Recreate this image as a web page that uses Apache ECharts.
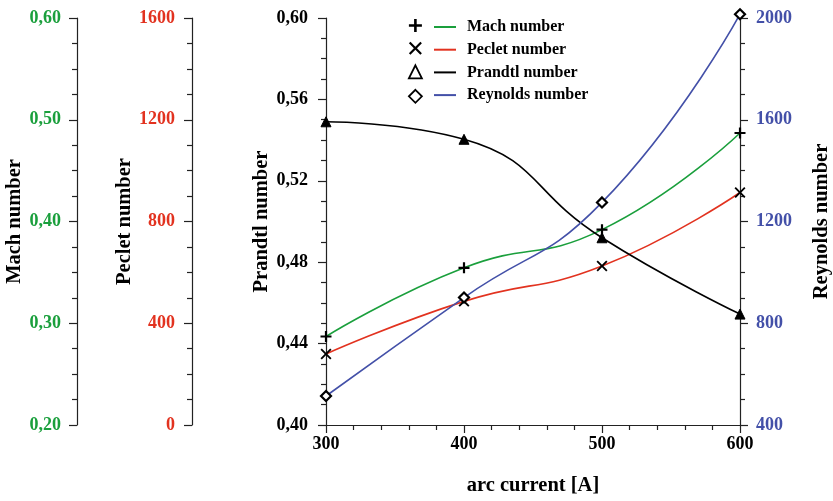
<!DOCTYPE html>
<html>
<head>
<meta charset="utf-8">
<script src="https://cdn.jsdelivr.net/npm/echarts@6/dist/echarts.min.js"></script>
<style>
html,body{margin:0;padding:0;background:#fff;}
#chart{width:833px;height:501px;}
</style>
</head>
<body>
<div id="chart"></div>
<script>
// ---- data ----
const arcCurrent = [300, 400, 500, 600];
const machNumber = [0.287, 0.3545, 0.392, 0.487];
const pecletNumber = [279, 486, 625, 914];
const prandtlNumber = [0.549, 0.5404, 0.492, 0.4545];
const reynoldsNumber = [514, 901, 1275, 2015];
const seriesNames = ['Mach number', 'Peclet number', 'Prandtl number', 'Reynolds number'];
const xAxisName = 'arc current [A]';

const GREEN = '#1a9f3c', RED = '#e2321f', BLACK = '#000000', BLUE = '#4350a8';
const FONT = 'Liberation Serif';
const AXIS_COLOR = '#222';

const PLUS = 'path://M4,0 L6,0 L6,4 L10,4 L10,6 L6,6 L6,10 L4,10 L4,6 L0,6 L0,4 L4,4 Z';
const CROSS = 'path://M1.2,0 L5,3.8 L8.8,0 L10,1.2 L6.2,5 L10,8.8 L8.8,10 L5,6.2 L1.2,10 L0,8.8 L3.8,5 L0,1.2 Z';

function pair(xs, ys) { return xs.map((x, i) => [x, ys[i]]); }
function comma(v, d) { return v.toFixed(d).replace('.', ','); }

function yAxis(opts) {
  return Object.assign({
    type: 'value',
    nameLocation: 'middle',
    nameRotate: 90,
    nameTextStyle: { fontFamily: FONT, fontWeight: 'bold', fontSize: 20.5, color: '#000' },
    axisLine: { show: true, onZero: false, lineStyle: { color: AXIS_COLOR, width: 1.2 } },
    axisTick: { show: true, inside: false, length: 8, lineStyle: { color: AXIS_COLOR, width: 1.2 } },
    minorTick: { show: true, splitNumber: 4, length: 5, lineStyle: { color: AXIS_COLOR, width: 1.2 } },
    splitLine: { show: false },
    minorSplitLine: { show: false }
  }, opts);
}

const chart = echarts.init(document.getElementById('chart'), null, { renderer: 'canvas' });

const option = {
  backgroundColor: '#fff',
  animation: false,
  grid: { left: 326, right: 92, top: 18, bottom: 68, containLabel: false },
  legend: [
    {
      orient: 'vertical', left: 403, top: 14, itemWidth: 13, itemHeight: 13, itemGap: 9.7,
      formatter: () => '', selectedMode: false,
      data: [
        { name: seriesNames[0], icon: PLUS, itemStyle: { color: '#000', borderWidth: 0 } },
        { name: seriesNames[1], icon: CROSS, itemStyle: { color: '#000', borderWidth: 0 } },
        { name: seriesNames[2], icon: 'triangle', itemStyle: { color: '#fff', borderColor: '#000', borderWidth: 1.8 } },
        { name: seriesNames[3], icon: 'diamond', itemStyle: { color: '#fff', borderColor: '#000', borderWidth: 1.8 } }
      ]
    },
    {
      orient: 'vertical', left: 429, top: 12, itemWidth: 22, itemHeight: 2, itemGap: 2.7,
      icon: 'rect', selectedMode: false,
      textStyle: { fontFamily: FONT, fontWeight: 'bold', fontSize: 16, color: '#000', lineHeight: 20, padding: [0, 0, 0, 6] },
      data: [
        { name: seriesNames[0], itemStyle: { color: GREEN, borderWidth: 0 } },
        { name: seriesNames[1], itemStyle: { color: RED, borderWidth: 0 } },
        { name: seriesNames[2], itemStyle: { color: BLACK, borderWidth: 0 } },
        { name: seriesNames[3], itemStyle: { color: BLUE, borderWidth: 0 } }
      ]
    }
  ],
  xAxis: {
    type: 'value', min: 300, max: 600, interval: 100,
    name: xAxisName, nameLocation: 'middle', nameGap: 50,
    nameTextStyle: { fontFamily: FONT, fontWeight: 'bold', fontSize: 20.5, color: '#000' },
    axisLine: { show: true, onZero: false, lineStyle: { color: AXIS_COLOR, width: 1.2 } },
    axisTick: { show: true, length: 8, lineStyle: { color: AXIS_COLOR, width: 1.2 } },
    minorTick: { show: true, splitNumber: 5, length: 5, lineStyle: { color: AXIS_COLOR, width: 1.2 } },
    axisLabel: { fontFamily: FONT, fontWeight: 'bold', fontSize: 18, color: '#000', margin: 10, formatter: v => String(v) },
    splitLine: { show: false }
  },
  yAxis: [
    yAxis({
      name: seriesNames[0], position: 'left', offset: 249, nameGap: 52,
      min: 0.2, max: 0.6, interval: 0.1,
      axisLabel: { fontFamily: FONT, fontWeight: 'bold', fontSize: 18, color: GREEN, margin: 16, formatter: v => comma(v, 2) }
    }),
    yAxis({
      name: seriesNames[1], position: 'left', offset: 134, nameGap: 54,
      min: 0, max: 1600, interval: 400,
      axisLabel: { fontFamily: FONT, fontWeight: 'bold', fontSize: 18, color: RED, margin: 17, formatter: v => String(Math.round(v)) }
    }),
    yAxis({
      name: seriesNames[2], position: 'left', offset: 0, nameGap: 53,
      min: 0.4, max: 0.6, interval: 0.04,
      axisLabel: { fontFamily: FONT, fontWeight: 'bold', fontSize: 18, color: '#000', margin: 18, formatter: v => comma(v, 2) }
    }),
    yAxis({
      name: seriesNames[3], position: 'right', offset: 0, nameGap: 71,
      min: 400, max: 2000, interval: 400,
      axisLabel: { fontFamily: FONT, fontWeight: 'bold', fontSize: 18, color: BLUE, margin: 16, formatter: v => String(Math.round(v)) }
    })
  ],
  series: [
    {
      name: seriesNames[0], type: 'line', yAxisIndex: 0, smooth: 0.5, clip: false,
      data: pair(arcCurrent, machNumber),
      symbol: PLUS, symbolSize: 11,
      lineStyle: { color: GREEN, width: 1.6 },
      itemStyle: { color: '#000', borderWidth: 0 }, z: 3
    },
    {
      name: seriesNames[1], type: 'line', yAxisIndex: 1, smooth: 0.5, clip: false,
      data: pair(arcCurrent, pecletNumber),
      symbol: CROSS, symbolSize: 11,
      lineStyle: { color: RED, width: 1.6 },
      itemStyle: { color: '#000', borderWidth: 0 }, z: 3
    },
    {
      name: seriesNames[2], type: 'line', yAxisIndex: 2, smooth: 0.5, clip: false,
      data: pair(arcCurrent, prandtlNumber),
      symbol: 'triangle', symbolSize: 10,
      lineStyle: { color: BLACK, width: 1.6 },
      itemStyle: { color: '#000', borderColor: '#000', borderWidth: 1 }, z: 3
    },
    {
      name: seriesNames[3], type: 'line', yAxisIndex: 3, smooth: 0.5, clip: false,
      data: pair(arcCurrent, reynoldsNumber),
      symbol: 'diamond', symbolSize: 10,
      lineStyle: { color: BLUE, width: 1.6 },
      itemStyle: { color: '#fff', borderColor: '#000', borderWidth: 2.2 }, z: 3
    }
  ]
};
chart.setOption(option);
</script>
</body>
</html>
